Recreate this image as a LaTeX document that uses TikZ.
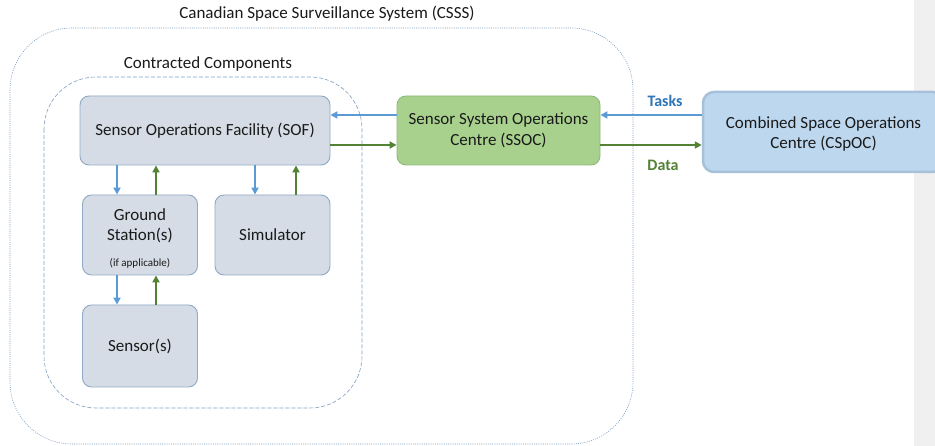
\documentclass[tikz,border=0pt]{standalone}
\usepackage{fontspec}
\setmainfont{Carlito}
\usetikzlibrary{arrows.meta}
\definecolor{boxfill}{HTML}{D6DCE5}
\definecolor{boxline}{HTML}{8FAAC6}
\definecolor{grnfill}{HTML}{A9D18E}
\definecolor{grnline}{HTML}{8DB87A}
\definecolor{cspfill}{HTML}{BDD7EE}
\definecolor{cspline}{HTML}{A7C1DA}
\definecolor{bluearr}{HTML}{5B9BD5}
\definecolor{grnarr}{HTML}{548235}
\definecolor{tasksc}{HTML}{2E75B6}
\definecolor{frame}{HTML}{7F9FC0}
\definecolor{txt}{HTML}{1A1A1A}
\begin{document}
\begin{tikzpicture}[x=1pt,y=-1pt,
  font=\fontsize{17}{20.5}\selectfont, text=txt,
  box/.style={draw=boxline, fill=boxfill, rounded corners=9pt, line width=0.9pt, align=center, inner sep=0pt},
  gbox/.style={draw=grnline, fill=grnfill, rounded corners=9pt, line width=0.9pt, align=center, inner sep=0pt},
  barr/.style={draw=bluearr, line width=2.2pt, -{Triangle[length=7pt,width=7pt]}},
  garr/.style={draw=grnarr, line width=2.2pt, -{Triangle[length=7pt,width=7pt]}},
  lbl/.style={inner sep=0pt}
]
\useasboundingbox (0,0) rectangle (935,446);
\clip (0,0) rectangle (935,446);
\fill[white] (0,0) rectangle (935,446);
\fill[black!6] (914,0) rectangle (935,446);

% frames
\draw[frame, line width=0.6pt, dash pattern=on 1pt off 1.2pt, rounded corners=62pt] (10,28) rectangle (633,444);
\draw[frame, line width=0.6pt, dash pattern=on 4pt off 2pt, rounded corners=52pt] (44,77) rectangle (362,408);
\node[lbl] (t1) at (327,14) {Canadian Space Surveillance System (CSSS)};
\node[lbl] (t2) at (208,64) {Contracted Components};

% boxes
\node[box, minimum width=250pt, minimum height=69pt] (sof) at (205,130.5) {Sensor Operations Facility (SOF)};
\node[box, minimum width=115pt, minimum height=80pt] (gs) at (140,235) {};
\node[lbl, align=center] (gst) at (140,226) {Ground\\Station(s)};
\node[lbl, font=\fontsize{11}{13}\selectfont] (gsi) at (140,263) {(if applicable)};
\node[box, minimum width=115pt, minimum height=80pt] (sim) at (272.5,235) {Simulator};
\node[box, minimum width=115pt, minimum height=82pt] (sen) at (140,346) {Sensor(s)};
\node[gbox, minimum width=203pt, minimum height=69pt] (ssoc) at (498.5,130.5) {Sensor System Operations\\Centre (SSOC)};
\node[draw=cspline, fill=cspfill, rounded corners=11pt, line width=2.5pt, inner sep=0pt,
      minimum width=241pt, minimum height=80pt] (csp) at (823.5,132) {};
\node[lbl, align=center] (cspt) at (823.5,134) {Combined Space Operations\\Centre (CSpOC)};

% horizontal arrows
\draw[barr] (ssoc.west |- 0,115) -- (sof.east |- 0,115);
\draw[garr] (sof.east |- 0,145) -- (ssoc.west |- 0,145);
\draw[barr] (csp.west |- 0,115) -- (ssoc.east |- 0,115);
\draw[garr] (ssoc.east |- 0,145) -- (csp.west |- 0,145);
\node[lbl, text=tasksc, font=\fontsize{16}{19}\selectfont\bfseries] (tasks) at (665,101) {Tasks};
\node[lbl, text=grnarr, font=\fontsize{16}{19}\selectfont\bfseries] (data) at (663,165) {Data};

% vertical arrows
\draw[barr] ([xshift=-23pt]gs.north |- sof.south) -- ([xshift=-23pt]gs.north);
\draw[garr] ([xshift=16pt]gs.north) -- ([xshift=16pt]gs.north |- sof.south);
\draw[barr] ([xshift=-17.5pt]sim.north |- sof.south) -- ([xshift=-17.5pt]sim.north);
\draw[garr] ([xshift=23.5pt]sim.north) -- ([xshift=23.5pt]sim.north |- sof.south);
\draw[barr] ([xshift=-23pt]sen.north |- gs.south) -- ([xshift=-23pt]sen.north);
\draw[garr] ([xshift=16pt]sen.north) -- ([xshift=16pt]sen.north |- gs.south);
\end{tikzpicture}
\end{document}
